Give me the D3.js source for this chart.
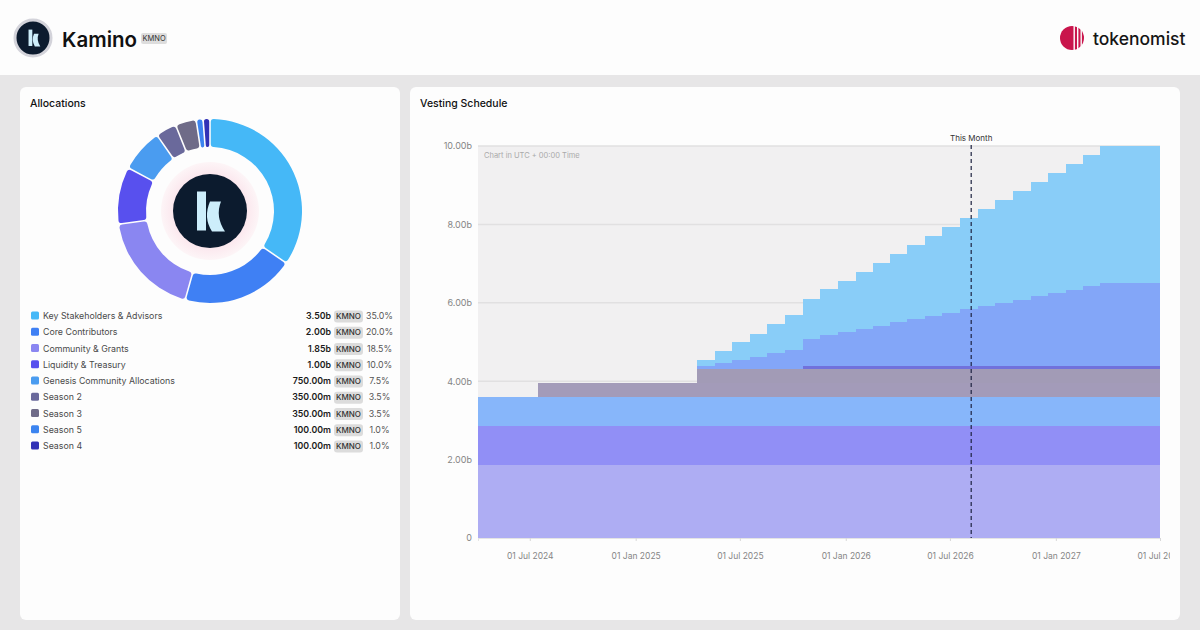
<!DOCTYPE html>
<html>
<head>
<meta charset="utf-8">
<script src="https://cdn.jsdelivr.net/npm/d3@7"></script>
<style>
  body { margin: 0; background: #e7e6e7; font-family: Inter, "Noto Sans", sans-serif; }
  svg { display: block; }
</style>
</head>
<body>
<svg id="page" width="1200" height="630"></svg>
<script>
// Allocations (b KMNO)
const categories = ["Key Stakeholders & Advisors", "Core Contributors", "Community & Grants",
  "Liquidity & Treasury", "Genesis Community Allocations", "Season 2", "Season 3", "Season 5", "Season 4"];
const amounts = [3.5, 2.0, 1.85, 1.0, 0.75, 0.35, 0.35, 0.1, 0.1];
const amountLabels = ["3.50b", "2.00b", "1.85b", "1.00b", "750.00m", "350.00m", "350.00m", "100.00m", "100.00m"];
const percents = ["35.0%", "20.0%", "18.5%", "10.0%", "7.5%", "3.5%", "3.5%", "1.0%", "1.0%"];
const donutColors = ["#45b8f7", "#3f80f4", "#8a86f1", "#5850ee", "#4a9cf0", "#6a699b", "#6f6b88", "#3c84f0", "#3232b6"];

// Vesting schedule (cumulative unlocked, b KMNO)
const startDate = "2024-04-02";
const endDate = "2027-07-01";
const thisMonth = "2026-08-07";
const communityPts = [["2024-04-02", 1.85]];
const liquidityPts = [["2024-04-02", 1.00]];
const genesisPts = [["2024-04-02", 0.75]];
const season2Pts = [["2024-07-15", 0.35]];
const season3Pts = [["2025-04-18", 0.35]];
const season4Pts = [["2025-10-18", 0.10]];
const season5Pts = [["2025-10-18", 0.10]];
const vestDates = ["2025-04-18", "2025-05-18", "2025-06-18", "2025-07-18", "2025-08-18", "2025-09-18",
  "2025-10-18", "2025-11-18", "2025-12-18", "2026-01-18", "2026-02-18", "2026-03-18",
  "2026-04-18", "2026-05-18", "2026-06-18", "2026-07-18", "2026-08-18", "2026-09-18",
  "2026-10-18", "2026-11-18", "2026-12-18", "2027-01-18", "2027-02-18", "2027-03-18"];
const coreValues = [0.08, 0.17, 0.25, 0.33, 0.42, 0.50, 0.58, 0.67, 0.75, 0.83, 0.92, 1.00,
  1.08, 1.17, 1.25, 1.33, 1.42, 1.50, 1.58, 1.67, 1.75, 1.83, 1.92, 2.00];
const keyValues = [0.15, 0.29, 0.44, 0.58, 0.73, 0.88, 1.02, 1.17, 1.31, 1.46, 1.60, 1.75,
  1.90, 2.04, 2.19, 2.33, 2.48, 2.63, 2.77, 2.92, 3.06, 3.21, 3.35, 3.50];
const stackKeys = ["Community & Grants", "Liquidity & Treasury", "Genesis Community Allocations",
  "Season 2", "Season 3", "Season 4", "Season 5", "Core Contributors", "Key Stakeholders & Advisors"];
const areaColors = ["#aeadf3", "#918ff6", "#87b6fa", "#a39bb9", "#a29bb6", "#7171dc", "#83a6f8", "#83a6f8", "#89cdf8"];
const yTicks = [0, 2, 4, 6, 8, 10];
const yTickLabels = ["0", "2.00b", "4.00b", "6.00b", "8.00b", "10.00b"];
const xTickDates = ["2024-07-01", "2025-01-01", "2025-07-01", "2026-01-01", "2026-07-01", "2027-01-01", "2027-07-01"];

const parse = d3.timeParse("%Y-%m-%d");
const svg = d3.select("#page");

// page background + header
svg.append("rect").attr("width", 1200).attr("height", 630).attr("fill", "#e7e6e7");
svg.append("rect").attr("width", 1200).attr("height", 75).attr("fill", "#fdfdfd");

function kLogo(g, s, col) {
  g.append("rect").attr("x", -13 * s).attr("y", -20 * s).attr("width", 9 * s).attr("height", 39 * s).attr("fill", col);
  g.append("path")
    .attr("d", `M${0 * s},${-10 * s} L${11 * s},${-10 * s} Q${5 * s},${5 * s} ${15 * s},${20 * s} L${2 * s},${20 * s} Q${-7 * s},${6 * s} ${0 * s},${-10 * s} Z`)
    .attr("fill", col);
}

const hl = svg.append("g").attr("transform", "translate(33,38)");
hl.append("circle").attr("r", 18).attr("fill", "#0c1b2e").attr("stroke", "#d3d3da").attr("stroke-width", 3);
kLogo(hl.append("g").attr("transform", "translate(1,0)"), 0.42, "#cdeefb");

const title = svg.append("text").attr("x", 62).attr("y", 46.5).text("Kamino")
  .attr("font-size", 20.5).attr("font-weight", 600).attr("fill", "#111");
const tw = title.node().getComputedTextLength();
svg.append("rect").attr("x", 62 + tw + 4).attr("y", 33).attr("width", 26).attr("height", 11).attr("rx", 2).attr("fill", "#dddddd");
svg.append("text").attr("x", 62 + tw + 17).attr("y", 41.3).attr("text-anchor", "middle").text("KMNO")
  .attr("font-size", 7.5).attr("fill", "#333");

// tokenomist mark
const tm = svg.append("g").attr("transform", "translate(1072,38)");
tm.append("circle").attr("r", 12).attr("fill", "#c9154c");
[1.5, 5, 8.5].forEach(dx => {
  tm.append("rect").attr("x", dx).attr("y", -13).attr("width", 1.4).attr("height", 26).attr("fill", "#fdfdfd");
});
svg.append("text").attr("x", 1093).attr("y", 44.5).text("tokenomist")
  .attr("font-size", 17.5).attr("font-weight", 500).attr("fill", "#151515");

// panels
svg.append("rect").attr("x", 20).attr("y", 87).attr("width", 380).attr("height", 533).attr("rx", 6).attr("fill", "#fdfdfd");
svg.append("rect").attr("x", 410).attr("y", 87).attr("width", 770).attr("height", 533).attr("rx", 6).attr("fill", "#fdfdfd");
svg.append("text").attr("x", 30).attr("y", 107).text("Allocations").attr("font-size", 10.5).attr("font-weight", 500).attr("fill", "#111");
svg.append("text").attr("x", 420).attr("y", 107).text("Vesting Schedule").attr("font-size", 10.5).attr("font-weight", 500).attr("fill", "#111");

// donut
const dg = svg.append("g").attr("transform", "translate(210,211)");
const pie = d3.pie().sort(null).value(d => d).padAngle(0.014);
const arc = d3.arc().innerRadius(64).outerRadius(92).cornerRadius(3);
dg.selectAll("path.slice").data(pie(amounts)).enter().append("path")
  .attr("class", "slice").attr("d", arc).attr("fill", (d, i) => donutColors[i]);
const grad = svg.append("defs").append("radialGradient").attr("id", "pinkGlow");
grad.append("stop").attr("offset", "0.7").attr("stop-color", "#fbe5ec");
grad.append("stop").attr("offset", "1").attr("stop-color", "#fdf5f7");
dg.append("circle").attr("r", 49).attr("fill", "url(#pinkGlow)");
dg.append("circle").attr("r", 37).attr("fill", "#0c1b2e");
kLogo(dg.append("g").attr("transform", "translate(0,0.5)"), 1, "#cdeefb");

// legend
const lg = svg.append("g");
categories.forEach((c, i) => {
  const yy = 316 + i * 16.25;
  lg.append("rect").attr("x", 31).attr("y", yy - 4.5).attr("width", 8).attr("height", 8).attr("rx", 1.5).attr("fill", donutColors[i]);
  lg.append("text").attr("x", 43).attr("y", yy + 3).text(c).attr("font-size", 8.8).attr("fill", "#4a4a4a");
  lg.append("text").attr("x", 331).attr("y", yy + 3).attr("text-anchor", "end").text(amountLabels[i])
    .attr("font-size", 8.8).attr("font-weight", 600).attr("fill", "#1a1a1a");
  lg.append("rect").attr("x", 334).attr("y", yy - 5.5).attr("width", 29).attr("height", 12).attr("rx", 3).attr("fill", "#dcdcdc");
  lg.append("text").attr("x", 348.5).attr("y", yy + 3).attr("text-anchor", "middle").text("KMNO")
    .attr("font-size", 8).attr("font-weight", 500).attr("fill", "#333");
  lg.append("text").attr("x", 379.5).attr("y", yy + 3).attr("text-anchor", "middle").text(percents[i])
    .attr("font-size", 8.8).attr("fill", "#555");
});

// vesting chart
const seriesPts = [
  communityPts, liquidityPts, genesisPts, season2Pts, season3Pts, season4Pts, season5Pts,
  vestDates.map((d, i) => [d, coreValues[i]]),
  vestDates.map((d, i) => [d, keyValues[i]])
];
const allDates = Array.from(new Set([startDate, endDate].concat(...seriesPts.map(s => s.map(p => p[0]))))).sort();
const table = allDates.map(ds => {
  const row = { date: parse(ds) };
  stackKeys.forEach((k, i) => {
    let v = 0;
    seriesPts[i].forEach(p => { if (p[0] <= ds) v = p[1]; });
    row[k] = v;
  });
  return row;
});

const x = d3.scaleTime().domain([parse(startDate), parse(endDate)]).range([478, 1160]);
const y = d3.scaleLinear().domain([0, 10]).range([538, 146]);

svg.append("rect").attr("x", 478).attr("y", 146).attr("width", 682).attr("height", 392).attr("fill", "#f1f0f1");
svg.append("g").selectAll("line").data(yTicks).enter().append("line")
  .attr("x1", 478).attr("x2", 1160).attr("y1", d => y(d)).attr("y2", d => y(d))
  .attr("stroke", "#e1e0e1").attr("stroke-width", 1.5);

svg.append("text").attr("x", 484).attr("y", 158).text("Chart in UTC + 00:00 Time")
  .attr("font-size", 7.5).attr("fill", "#aaa");

const stacked = d3.stack().keys(stackKeys)(table);
const area = d3.area().curve(d3.curveStepAfter)
  .x(d => x(d.data.date)).y0(d => y(d[0])).y1(d => y(d[1]));
svg.append("g").selectAll("path").data(stacked).enter().append("path")
  .attr("d", area).attr("fill", (d, i) => areaColors[i]).attr("shape-rendering", "crispEdges");

// y axis
const ya = svg.append("g").attr("transform", "translate(478,0)")
  .call(d3.axisLeft(y).tickValues(yTicks).tickFormat((d, i) => yTickLabels[i]).tickSize(0).tickPadding(6));
ya.select(".domain").remove();
ya.selectAll("text").attr("font-size", 9).attr("fill", "#858585").attr("font-family", "Inter, sans-serif");

// x axis (labels clipped at the panel edge)
svg.append("defs").append("clipPath").attr("id", "xclip")
  .append("rect").attr("x", 440).attr("y", -8).attr("width", 730).attr("height", 60);
const xa = svg.append("g").attr("transform", "translate(0,538)").attr("clip-path", "url(#xclip)")
  .call(d3.axisBottom(x).tickValues(xTickDates.map(parse)).tickFormat(d3.timeFormat("%d %b %Y")).tickSize(3).tickPadding(12));
xa.select(".domain").attr("stroke", "#e4e4e4");
xa.selectAll("line").attr("stroke", "#d8d8d8");
xa.selectAll("text").attr("font-size", 8.5).attr("fill", "#858585").attr("font-family", "Inter, sans-serif");

// this month marker
svg.append("line").attr("x1", x(parse(thisMonth))).attr("x2", x(parse(thisMonth)))
  .attr("y1", 145).attr("y2", 538).attr("stroke", "#1c2240").attr("stroke-opacity", 0.85)
  .attr("stroke-width", 1.4).attr("stroke-dasharray", "4,3");
svg.append("text").attr("x", x(parse(thisMonth))).attr("y", 141).attr("text-anchor", "middle")
  .text("This Month").attr("font-size", 8).attr("fill", "#333");
</script>
</body>
</html>
